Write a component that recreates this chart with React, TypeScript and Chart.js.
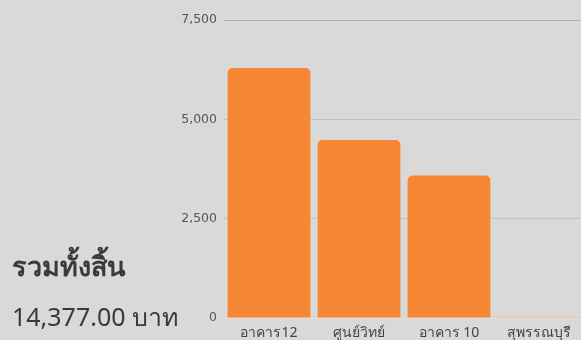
import React, { useEffect, useRef } from "react";
import { Chart, registerables } from "chart.js";

Chart.register(...registerables);

const categories = ["อาคาร12", "ศูนย์วิทย์", "อาคาร 10", "สุพรรณบุรี"];
const values = [6290, 4480, 3585, 22];
const yMax = 7500;
const yStep = 2500;
const totalLabel = "รวมทั้งสิ้น";
const totalValue = "14,377.00 บาท";

export default function App() {
  const ref = useRef<HTMLCanvasElement | null>(null);

  useEffect(() => {
    if (!ref.current) return;
    const chart = new Chart(ref.current, {
      type: "bar",
      data: {
        labels: categories,
        datasets: [
          {
            data: values,
            backgroundColor: "#f68835",
            borderRadius: 5,
            borderSkipped: "bottom",
            borderWidth: 0,
            categoryPercentage: 1,
            barPercentage: 0.92,
          },
        ],
      },
      options: {
        responsive: false,
        animation: false,
        layout: { padding: { top: 20, left: 0, right: 2, bottom: 0 } },
        plugins: { legend: { display: false }, tooltip: { enabled: false } },
        scales: {
          x: {
            grid: { display: false },
            border: { display: false },
            ticks: {
              color: "#444444",
              padding: 0,
              font: { size: 14, family: "'Noto Sans', 'DejaVu Sans', sans-serif", lineHeight: 1 },
            },
            afterFit: (s: any) => {
              s.height = 22;
            },
          },
          y: {
            min: 0,
            max: yMax,
            ticks: {
              stepSize: yStep,
              color: "#555555",
              padding: 7,
              font: { size: 12.5, family: "'DejaVu Sans', sans-serif" },
              callback: (v: any) => Number(v).toLocaleString("en-US"),
            },
            grid: {
              drawTicks: false,
              color: (c: any) => (c.tick && c.tick.value === 0 ? "#ecdcd2" : c.tick && c.tick.value === yMax ? "#b0b0b0" : "#c2c2c2"),
            },
            border: { display: false },
            afterFit: (s: any) => {
              s.width = 224;
            },
          },
        },
      },
    });
    return () => chart.destroy();
  }, []);

  return (
    <div
      style={{
        position: "absolute",
        left: 0,
        top: 0,
        width: 581,
        height: 340,
        overflow: "hidden",
        background: "#d9d9d9",
      }}
    >
      <canvas ref={ref} width={586} height={340} style={{ position: "absolute", left: 0, top: 0 }} />
      <div
        style={{
          position: "absolute",
          left: 12,
          top: 248,
          fontFamily: "'Noto Sans', sans-serif",
          fontSize: 27,
          fontWeight: 600,
          color: "#3a3a3a",
          lineHeight: "36px",
          whiteSpace: "nowrap",
        }}
      >
        {totalLabel}
      </div>
      <div
        style={{
          position: "absolute",
          left: 12,
          top: 300,
          fontFamily: "'Noto Sans', sans-serif",
          fontSize: 25,
          color: "#3a3a3a",
          lineHeight: "32px",
          whiteSpace: "nowrap",
        }}
      >
        {totalValue}
      </div>
    </div>
  );
}
